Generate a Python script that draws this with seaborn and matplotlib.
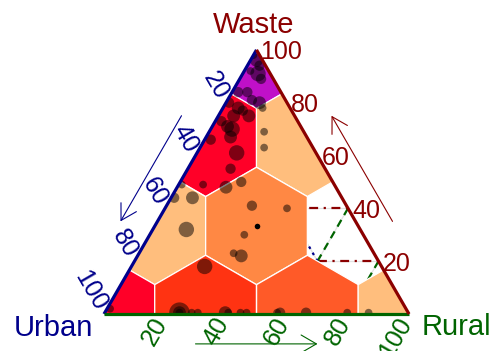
import numpy as np
import pandas as pd
import matplotlib
matplotlib.use("Agg")
import matplotlib.pyplot as plt
from matplotlib.patches import Polygon, RegularPolygon, FancyArrowPatch
from matplotlib.colors import ListedColormap, BoundaryNorm
import seaborn as sns

# ---- observations: composition in percent (urban, rural, waste) and marker radius
urban = [2, 2, 2, 4, 6, 4, 11, 11, 9, 14, 19, 17, 20, 16, 15, 25, 24, 23, 25, 26,
         31, 32, 9, 13, 16, 50, 55, 49, 57, 43, 36, 30, 58, 31, 20, 39, 46, 44, 97,
         75, 75, 75, 71, 69, 60, 59, 55, 53, 43, 42, 33.5, 20, 13]
rural = [2, 0, 4, 5, 2, 7, 5, 8, 11, 2, 1, 5, 5, 7, 10, 2, 5, 7, 8, 13,
         14, 2, 13, 18, 21, 1, 1, 7, 11, 8, 16, 20, 24, 28, 40, 31, 31, 34, 1,
         24.5, 24.5, 24.5, 28.5, 30.5, 39.5, 40.5, 44.5, 46.5, 56.5, 57.5, 66, 79.5, 86.5]
waste = [96, 98, 94, 91, 92, 89, 84, 81, 80, 84, 80, 78, 75, 77, 75, 73, 71, 70, 67, 61,
         55, 66, 78, 69, 63, 49, 44, 44, 32, 49, 48, 50, 18, 41, 40, 30, 23, 22, 2,
         0.5, 0.5, 0.5, 0.5, 0.5, 0.5, 0.5, 0.5, 0.5, 0.5, 0.5, 0.5, 0.5, 0.5]
radius = [5, 3, 4, 6, 3, 4, 4, 4, 5, 4, 4, 5, 5, 4, 5, 4, 5, 6, 5, 6,
          4, 4, 3, 3, 3, 3, 4, 5, 6, 3, 5, 4, 6, 4, 3, 3, 3, 5, 3,
          8, 5, 3, 3, 3, 5, 3, 3, 3, 3, 4, 4, 3, 3]

# centroid marker
centre = (100 / 3, 100 / 3, 100 / 3)

# ---- hexagonal bins: centre composition and point density
hex_urban = [0, 33.3, 0, 66.7, 33.3, 0, 100, 66.7, 33.3, 0]
hex_rural = [0, 0, 33.3, 0, 33.3, 66.7, 0, 33.3, 66.7, 100]
hex_waste = [100, 66.7, 66.7, 33.3, 33.3, 33.3, 0, 0, 0, 0]
hex_density = [9, 7, 2, 2, 3, 0, 7, 6, 5, 2]

density_colours = ["#FFBE7D", "#FF8844", "#FF5A28", "#FF3312", "#FF0028", "#C010C8"]
density_breaks = [1, 2.5, 4, 5.5, 6.5, 8, 10]

tick_values = [20, 40, 60, 80, 100]

# highlighted region outline (urban, rural, waste) segments
waste_lines = [((20, 40, 40), (0, 60, 40)), ((20, 60, 20), (0, 80, 20))]
rural_lines = [((0, 60, 40), (20, 60, 20)), ((0, 80, 20), (20, 80, 0))]
urban_lines = [((20, 60, 20), (20, 40, 40))]

COL_U, COL_R, COL_W = "#00008B", "#006400", "#8B0000"
SQ = np.sqrt(3) / 2


def to_xy(u, r, w):
    u, r, w = (np.asarray(v, dtype=float) for v in (u, r, w))
    tot = u + r + w
    r, w = r / tot, w / tot
    return r + w / 2, w * SQ


sns.set_theme(style="white")
plt.rcParams["font.family"] = ["Liberation Sans", "DejaVu Sans"]

fig = plt.figure(figsize=(4.96, 3.51), dpi=100)
ax = fig.add_axes([0, 0, 1, 1])
ax.set_xlim(-104 / 305, 392 / 305)
ax.set_ylim(-37 / 305, 314 / 305)
ax.axis("off")

tri = Polygon([(0, 0), (1, 0), (0.5, SQ)], closed=True, fc="none", ec="none")
ax.add_patch(tri)

# grid
for g in tick_values[:-1]:
    for a, b in [((100 - g, 0, g), (0, 100 - g, g)),
                 ((100 - g, g, 0), (0, g, 100 - g)),
                 ((g, 100 - g, 0), (g, 0, 100 - g))]:
        x, y = to_xy(*zip(a, b))
        ax.plot(x, y, color="#E2E2E2", lw=0.9, zorder=1)

# highlighted region
for segs, col, ls in [(waste_lines, COL_W, (0, (4, 2.5, 1, 2.5))),
                      (rural_lines, COL_R, (0, (3.5, 2.5))),
                      (urban_lines, COL_U, (0, (1.2, 2)))]:
    for a, b in segs:
        x, y = to_xy(*zip(a, b))
        ax.plot(x, y, color=col, lw=1.6, ls=ls, zorder=2)

# hexagonal bins
cmap = ListedColormap(density_colours)
norm = BoundaryNorm(density_breaks, cmap.N)
hx, hy = to_xy(hex_urban, hex_rural, hex_waste)
for cx, cy, d in zip(hx, hy, hex_density):
    if d <= 0:
        continue
    hp = RegularPolygon((cx, cy), numVertices=6, radius=(1 / 3) / np.sqrt(3),
                        orientation=0, fc=cmap(norm(d)), ec="white", lw=0.9, zorder=3)
    ax.add_patch(hp)
    hp.set_clip_path(tri)

# observations
px, py = to_xy(urban, rural, waste)
df = pd.DataFrame({"x": px, "y": py, "radius": radius})
size_map = {r: (1.85 * r) ** 2 for r in sorted(set(radius))}
sns.scatterplot(data=df, x="x", y="y", size="radius", sizes=size_map, color="black",
                alpha=0.5, linewidth=0, legend=False, ax=ax, zorder=4)
ax.collections[-1].set_clip_path(tri)
cx, cy = to_xy(*[[v] for v in centre])
ax.scatter(cx, cy, s=16, color="black", lw=0, zorder=4.5)

# triangle edges
ax.plot([0, 0.5], [0, SQ], color=COL_U, lw=2.3, zorder=5, solid_capstyle="butt")
ax.plot([0, 1], [0, 0], color=COL_R, lw=2.3, zorder=5, solid_capstyle="butt")
ax.plot([1, 0.5], [0, SQ], color=COL_W, lw=2.3, zorder=5, solid_capstyle="butt")

# tick labels
d = 6 / 305
for g in tick_values:
    x, y = to_xy(g, 0, 100 - g)
    ax.text(x - 0.5 * d, y + SQ * d, str(g), rotation=-60, rotation_mode="anchor",
            ha="right", va="center", color=COL_U, fontsize=18)
    x, y = to_xy(100 - g, g, 0)
    ax.text(x - 0.5 * d, y - SQ * d, str(g), rotation=60, rotation_mode="anchor",
            ha="right", va="center", color=COL_R, fontsize=18)
    x, y = to_xy(0, 100 - g, g)
    ax.text(x + 4 / 305, y, str(g), ha="left", va="center_baseline",
            color=COL_W, fontsize=18)

# axis titles
ax.text(0.492, 0.921, "Waste", ha="center", va="baseline", color=COL_W, fontsize=21)
ax.text(-0.167, -0.071, "Urban", ha="center", va="baseline", color=COL_U, fontsize=21)
ax.text(1.156, -0.069, "Rural", ha="center", va="baseline", color=COL_R, fontsize=21)

# direction arrows
off, t0, t1 = 0.105, 0.29, 0.69
arrows = [
    (np.array([0.5, SQ]) * t1 + off * np.array([-SQ, 0.5]),
     np.array([0.5, SQ]) * t0 + off * np.array([-SQ, 0.5]), COL_U),
    (np.array([0.3, -0.098]), np.array([0.7, -0.098]), COL_R),
    (np.array([1, 0]) + t0 * np.array([-0.5, SQ]) + off * np.array([SQ, 0.5]),
     np.array([1, 0]) + t1 * np.array([-0.5, SQ]) + off * np.array([SQ, 0.5]), COL_W),
]
for a, b, col in arrows:
    ax.add_patch(FancyArrowPatch(tuple(a), tuple(b),
                                 arrowstyle="->,head_length=0.55,head_width=0.32",
                                 mutation_scale=20, lw=0.8, color=col,
                                 shrinkA=0, shrinkB=0, zorder=5))

fig.savefig("out.png", dpi=100)
